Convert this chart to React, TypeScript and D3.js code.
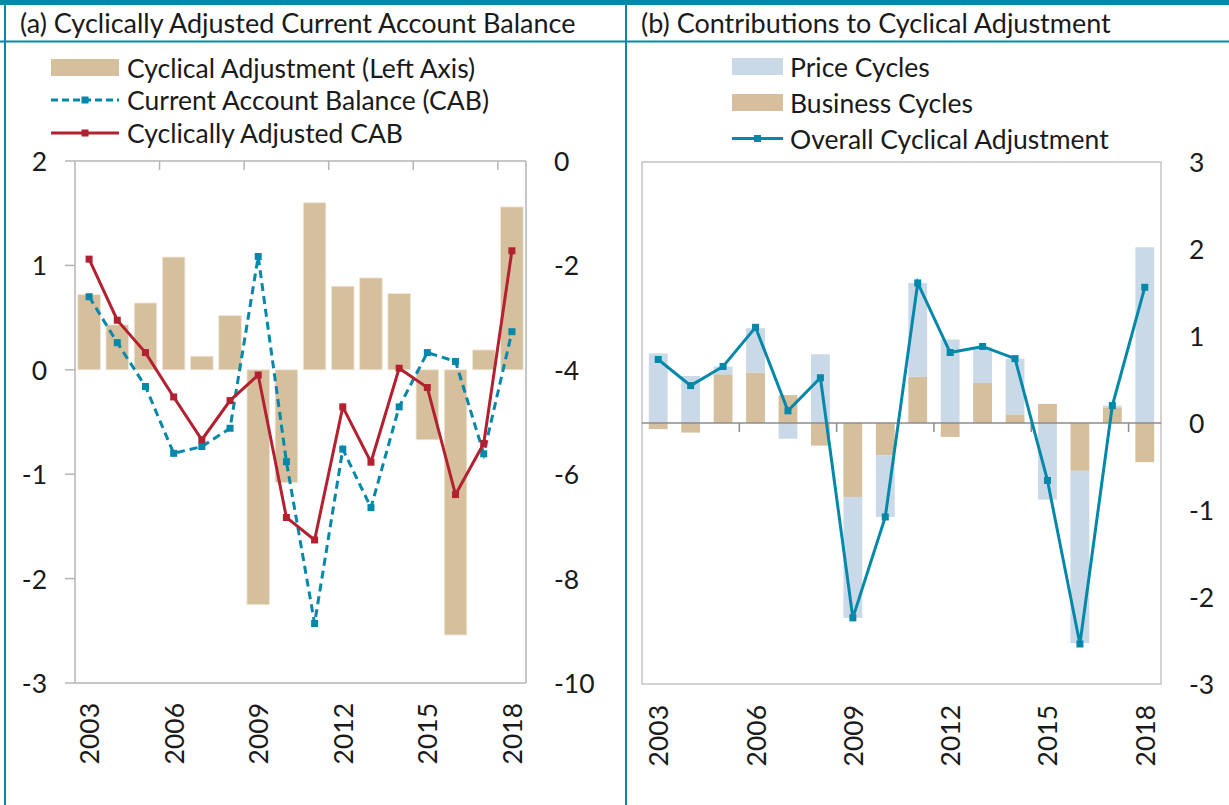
import * as d3 from 'd3';
import * as React from 'react';

const years = [
  '2003', '2004', '2005', '2006', '2007', '2008', '2009', '2010',
  '2011', '2012', '2013', '2014', '2015', '2016', '2017', '2018',
];
const tickYears = ['2003', '2006', '2009', '2012', '2015', '2018'];

// panel (a)
const cyclicalAdj = [0.72, 0.43, 0.64, 1.08, 0.13, 0.52, -2.25, -1.08, 1.6, 0.8, 0.88, 0.73, -0.67, -2.54, 0.19, 1.56];
const cab = [-2.6, -3.48, -4.32, -5.6, -5.47, -5.12, -1.83, -5.76, -8.86, -5.52, -6.64, -4.71, -3.67, -3.84, -5.61, -3.27];
const adjCab = [-1.88, -3.05, -3.67, -4.52, -5.34, -4.59, -4.1, -6.83, -7.26, -4.71, -5.77, -3.97, -4.34, -6.39, -5.41, -1.72];
const leftTicksA = [2, 1, 0, -1, -2, -3];
const rightTicksA = [0, -2, -4, -6, -8, -10];

// panel (b)
const priceCycles = [0.8, 0.54, 0.09, 0.51, -0.18, 0.79, -1.39, -0.71, 1.08, 0.96, 0.41, 0.64, -0.88, -1.98, 0.02, 2.02];
const businessCycles = [-0.07, -0.11, 0.56, 0.58, 0.32, -0.26, -0.85, -0.37, 0.53, -0.16, 0.46, 0.1, 0.22, -0.55, 0.18, -0.45];
const overallAdj = [0.73, 0.43, 0.65, 1.1, 0.14, 0.52, -2.24, -1.08, 1.61, 0.81, 0.88, 0.74, -0.66, -2.54, 0.2, 1.56];
const rightTicksB = [3, 2, 1, 0, -1, -2, -3];

const TEAL = '#0388aa';
const TAN = '#d5bf9c';
const BLUE = '#c9d9e8';
const RED = '#b3202f';
const GRID = '#b4b4b4';
const FONT = 'Lato, "Open Sans", sans-serif';
const FS = 26.5;

const PanelA: React.FC = () => {
  const x = d3.scaleBand().domain(years).range([75, 526]).paddingInner(0.2).paddingOuter(0.1);
  const yL = d3.scaleLinear().domain([-3, 2]).range([683, 161]);
  const yR = d3.scaleLinear().domain([-10, 0]).range([683, 161]);
  const cx = (i: number) => (x(years[i]) ?? 0) + x.bandwidth() / 2;
  const [x0, x1] = x.range();
  const lineR = d3.line<number>().x((_, i) => cx(i)).y((d) => yR(d));

  return (
    <g>
      {cyclicalAdj.map((v, i) => (
        <rect
          key={years[i]}
          x={x(years[i])}
          width={x.bandwidth()}
          y={yL(Math.max(0, v))}
          height={Math.abs(yL(v) - yL(0))}
          fill={TAN}
          stroke="#efe7d8"
          strokeWidth={0.8}
        />
      ))}
      {/* frame */}
      <line x1={x0} x2={x1} y1={yL(2)} y2={yL(2)} stroke={GRID} strokeWidth={1.5} />
      <line x1={x0} x2={x1} y1={yL(-3)} y2={yL(-3)} stroke={GRID} strokeWidth={1.5} />
      <line x1={x0} x2={x0} y1={yL(2)} y2={yL(-3)} stroke={GRID} strokeWidth={1.5} />
      <line x1={x1} x2={x1} y1={yR(0)} y2={yR(-10)} stroke={GRID} strokeWidth={1.5} />
      {[3, 6, 9, 12, 15].map((k) => (
        <line key={k} x1={x0 + k * x.step()} x2={x0 + k * x.step()} y1={yL(2)} y2={yL(2) + 9} stroke={GRID} strokeWidth={1.5} />
      ))}
      {leftTicksA.map((t) => (
        <g key={t}>
          <line x1={x0 - 10} x2={x0} y1={yL(t)} y2={yL(t)} stroke={GRID} strokeWidth={1.5} />
          <text x={x0 - 28} y={yL(t)} textAnchor="end" dominantBaseline="central" fontSize={FS}>
            {t}
          </text>
        </g>
      ))}
      {rightTicksA.map((t) => (
        <text key={t} x={x1 + 28} y={yR(t)} dominantBaseline="central" fontSize={FS}>
          {t}
        </text>
      ))}
      {tickYears.map((yr) => (
        <text
          key={yr}
          transform={`translate(${(x(yr) ?? 0) + x.bandwidth() / 2},703) rotate(-90)`}
          textAnchor="end"
          dominantBaseline="central"
          fontSize={FS}
        >
          {yr}
        </text>
      ))}
      <path d={lineR(cab) ?? ''} fill="none" stroke={TEAL} strokeWidth={3} strokeDasharray="8,5" />
      {cab.map((v, i) => (
        <rect key={i} x={cx(i) - 3.5} y={yR(v) - 3.5} width={7} height={7} fill={TEAL} />
      ))}
      <path d={lineR(adjCab) ?? ''} fill="none" stroke={RED} strokeWidth={3} />
      {adjCab.map((v, i) => (
        <rect key={i} x={cx(i) - 3.5} y={yR(v) - 3.5} width={7} height={7} fill={RED} />
      ))}
      {/* legend */}
      <rect x={51} y={59} width={68} height={17} fill={TAN} />
      <text x={127} y={68} dominantBaseline="central" fontSize={FS}>Cyclical Adjustment (Left Axis)</text>
      <line x1={51} x2={119} y1={100} y2={100} stroke={TEAL} strokeWidth={3} strokeDasharray="7,4" />
      <rect x={81.5} y={96.5} width={7} height={7} fill={TEAL} />
      <text x={127} y={100} dominantBaseline="central" fontSize={FS}>Current Account Balance (CAB)</text>
      <line x1={51} x2={119} y1={133} y2={133} stroke={RED} strokeWidth={3} />
      <rect x={81.5} y={129.5} width={7} height={7} fill={RED} />
      <text x={127} y={133} dominantBaseline="central" fontSize={FS}>Cyclically Adjusted CAB</text>
    </g>
  );
};

const PanelB: React.FC = () => {
  const x = d3.scaleBand().domain(years).range([642, 1161]).paddingInner(0.42).paddingOuter(0.21);
  const y = d3.scaleLinear().domain([-3, 3]).range([684, 162]);
  const cx = (i: number) => (x(years[i]) ?? 0) + x.bandwidth() / 2;
  const [x0, x1] = x.range();
  const rows = years.map((yr, i) => ({ year: yr, business: businessCycles[i], price: priceCycles[i] }));
  const stack = d3.stack<any>().keys(['business', 'price']).offset(d3.stackOffsetDiverging)(rows);
  const colors: Record<string, string> = { business: TAN, price: BLUE };
  const line = d3.line<number>().x((_, i) => cx(i)).y((d) => y(d));

  return (
    <g>
      <rect x={x0} y={y(3)} width={x1 - x0} height={y(-3) - y(3)} fill="none" stroke="#c4c4c4" strokeWidth={1.5} />
      {stack.map((s) => (
        <g key={s.key}>
          {s.map((d, i) => (
            <rect
              key={i}
              x={x(years[i])}
              width={x.bandwidth()}
              y={y(Math.max(d[0], d[1]))}
              height={Math.abs(y(d[0]) - y(d[1]))}
              fill={colors[s.key]}
            />
          ))}
        </g>
      ))}
      <line x1={x0} x2={x1} y1={y(0)} y2={y(0)} stroke="#8c8c8c" strokeWidth={1.5} />
      {[3, 6, 9, 12, 15].map((k) => (
        <line key={k} x1={x0 + k * x.step()} x2={x0 + k * x.step()} y1={y(0)} y2={y(0) + 9} stroke="#8c8c8c" strokeWidth={1.5} />
      ))}
      {rightTicksB.map((t) => (
        <text key={t} x={x1 + 28} y={y(t)} dominantBaseline="central" fontSize={FS}>
          {t}
        </text>
      ))}
      {tickYears.map((yr) => (
        <text
          key={yr}
          transform={`translate(${(x(yr) ?? 0) + x.bandwidth() / 2},705) rotate(-90)`}
          textAnchor="end"
          dominantBaseline="central"
          fontSize={FS}
        >
          {yr}
        </text>
      ))}
      <path d={line(overallAdj) ?? ''} fill="none" stroke={TEAL} strokeWidth={3} />
      {overallAdj.map((v, i) => (
        <rect key={i} x={cx(i) - 3.5} y={y(v) - 3.5} width={7} height={7} fill={TEAL} />
      ))}
      {/* legend */}
      <rect x={732} y={58} width={51} height={17} fill={BLUE} />
      <text x={790} y={67} dominantBaseline="central" fontSize={FS}>Price Cycles</text>
      <rect x={732} y={94} width={51} height={17} fill={TAN} />
      <text x={790} y={103} dominantBaseline="central" fontSize={FS}>Business Cycles</text>
      <line x1={732} x2={783} y1={138.5} y2={138.5} stroke={TEAL} strokeWidth={3} />
      <rect x={754} y={135} width={7} height={7} fill={TEAL} />
      <text x={790} y={138.5} dominantBaseline="central" fontSize={FS}>Overall Cyclical Adjustment</text>
    </g>
  );
};

export default function App() {
  return (
    <svg
      width={1229}
      height={805}
      style={{ position: 'absolute', left: 0, top: 0, background: '#fff' }}
      fontFamily={FONT}
      fill="#1a1a1a"
    >
      <rect x={0} y={0} width={1229} height={5} fill={TEAL} />
      <line x1={0} x2={1229} y1={41.5} y2={41.5} stroke={TEAL} strokeWidth={2} />
      <line x1={5} x2={5} y1={0} y2={805} stroke={TEAL} strokeWidth={2} />
      <line x1={626} x2={626} y1={0} y2={805} stroke={TEAL} strokeWidth={2} />
      <text x={20} y={33} fontSize={27}>(a) Cyclically Adjusted Current Account Balance</text>
      <text x={641} y={33} fontSize={27}>(b) Contributions to Cyclical Adjustment</text>
      <PanelA />
      <PanelB />
    </svg>
  );
}
